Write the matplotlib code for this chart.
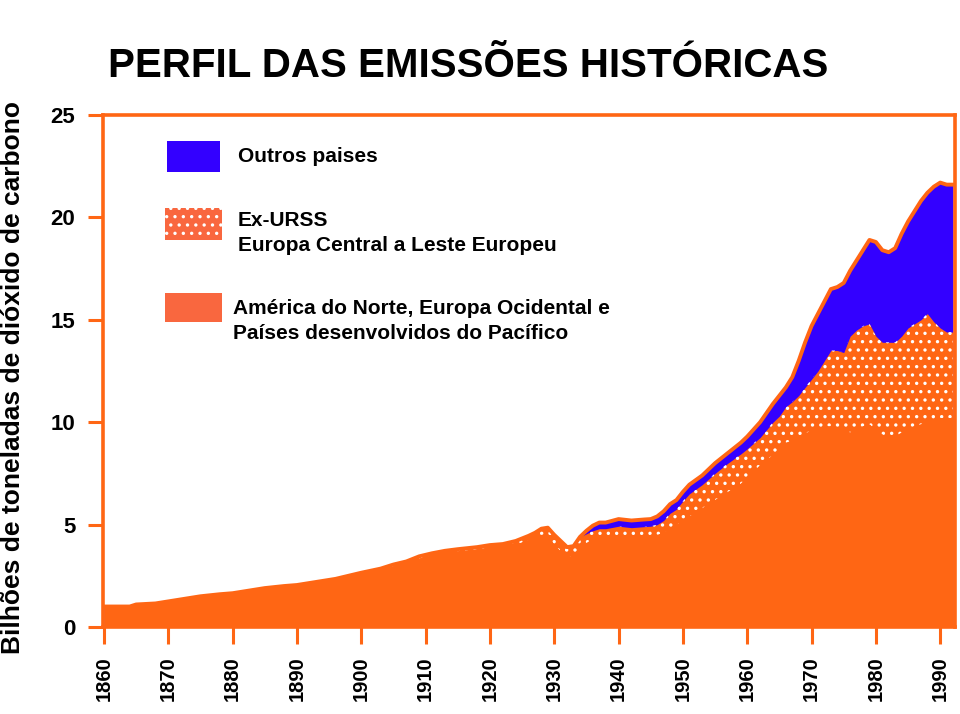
import numpy as np
import matplotlib
matplotlib.use("Agg")
from matplotlib import pyplot as plt
from matplotlib.patches import Rectangle

plt.rcParams["font.family"] = ["Liberation Sans", "DejaVu Sans"]
plt.rcParams["font.weight"] = "bold"
plt.rcParams["hatch.linewidth"] = 1.2

# values (billions of tonnes of CO2)
years = [1860, 1864, 1865, 1868, 1870, 1873, 1875, 1878, 1880, 1883, 1885, 1888,
         1890, 1893, 1896, 1898, 1900, 1903, 1905, 1907, 1909, 1911, 1913, 1915,
         1918, 1920, 1922, 1924, 1926, 1927, 1928, 1929, 1930, 1931, 1932, 1933,
         1934, 1935, 1936, 1937, 1938, 1940, 1942, 1944, 1945, 1946, 1947, 1948,
         1949, 1950, 1951, 1953, 1955, 1957, 1959, 1960, 1962, 1964, 1965, 1966,
         1967, 1968, 1969, 1970, 1971, 1972, 1973, 1974, 1975, 1976, 1977, 1978,
         1979, 1980, 1981, 1982, 1983, 1984, 1985, 1986, 1987, 1988, 1989, 1990,
         1991, 1992]

developed = [0.95, 0.95, 1.05, 1.1, 1.2, 1.35, 1.45, 1.55, 1.6, 1.75, 1.85, 1.95,
             2.0, 2.15, 2.3, 2.45, 2.6, 2.78, 2.97, 3.12, 3.35, 3.5, 3.6, 3.7,
             3.8, 3.88, 3.93, 4.02, 4.25, 4.35, 4.5, 4.5, 4.0, 3.7, 3.4, 3.5,
             3.9, 4.1, 4.3, 4.3, 4.3, 4.3, 4.3, 4.4, 4.5, 4.5, 4.6, 4.8,
             5.0, 5.2, 5.4, 5.8, 6.2, 6.6, 7.0, 7.3, 7.9, 8.4, 8.7, 9.0,
             9.1, 9.3, 9.45, 9.6, 9.7, 9.8, 9.8, 9.7, 9.6, 9.5, 9.65, 9.8,
             9.9, 9.6, 9.4, 9.3, 9.3, 9.5, 9.7, 9.8, 9.9, 10.0, 10.1, 10.2,
             10.2, 10.2]

ex_urss = [0.05, 0.05, 0.05, 0.05, 0.05, 0.05, 0.05, 0.05, 0.05, 0.05, 0.05, 0.05,
           0.05, 0.05, 0.05, 0.05, 0.05, 0.07, 0.08, 0.08, 0.1, 0.1, 0.12, 0.1,
           0.1, 0.12, 0.12, 0.18, 0.2, 0.25, 0.3, 0.35, 0.5, 0.5, 0.5, 0.45,
           0.5, 0.45, 0.4, 0.5, 0.5, 0.62, 0.55, 0.5, 0.42, 0.5, 0.6, 0.75,
           0.75, 0.95, 1.1, 1.15, 1.3, 1.4, 1.45, 1.4, 1.35, 1.6, 1.6, 1.75,
           1.9, 2.0, 2.25, 2.5, 2.8, 3.2, 3.7, 3.8, 3.8, 4.7, 4.85, 4.9,
           4.9, 4.6, 4.5, 4.6, 4.6, 4.7, 4.9, 5.0, 5.1, 5.3, 4.8, 4.4,
           4.2, 4.2]

outros = [0, 0, 0, 0, 0, 0, 0, 0, 0, 0, 0, 0,
          0, 0, 0, 0, 0, 0, 0, 0, 0, 0, 0, 0,
          0, 0, 0, 0, 0, 0, 0, 0, 0, 0, 0, 0,
          0, 0.15, 0.25, 0.3, 0.3, 0.35, 0.35, 0.35, 0.35, 0.4, 0.45, 0.45,
          0.45, 0.45, 0.45, 0.45, 0.5, 0.5, 0.55, 0.6, 0.75, 0.9, 1.0, 0.95,
          1.2, 1.7, 2.2, 2.6, 2.8, 2.9, 3.0, 3.1, 3.4, 3.2, 3.4, 3.7,
          4.1, 4.6, 4.5, 4.4, 4.6, 5.0, 5.2, 5.5, 5.8, 5.9, 6.6, 7.1,
          7.2, 7.2]

labels = ["Outros paises",
          "Ex-URSS\nEuropa Central a Leste Europeu",
          "América do Norte, Europa Ocidental e\nPaíses desenvolvidos do Pacífico"]

orange = "#FF6614"
legend_orange = "#F9673F"
blue = "#3300FF"

W, H = 960, 714


def fx(x):
    return x / W


def fy(y):
    return 1 - y / H


dev = np.array(developed)
urss_top = dev + np.array(ex_urss)
total = urss_top + np.array(outros)

fig = plt.figure(figsize=(9.6, 7.14), dpi=100)
ax = fig.add_axes([fx(103), fy(627), fx(955) - fx(103), fy(115) - fy(627)])

# overlapping fills from zero, so no seams between the layers
ax.fill_between(years, 0, total, color=blue, lw=0, label=labels[0])
ax.fill_between(years, 0, urss_top, color=orange, lw=0)
ax.fill_between(years, dev, urss_top, facecolor="none", edgecolor="white",
                hatch="..", lw=0, label=labels[1])
ax.fill_between(years, 0, dev, color=orange, lw=0, label=labels[2])
ax.plot(years, total, color=orange, lw=2.8, solid_joinstyle="round")

ax.set_xlim(1859.85, 1992.3)
ax.set_ylim(0, 25)
ax.set_xticks(range(1860, 1991, 10))
ax.set_yticks(range(0, 26, 5))
ax.tick_params(axis="x", length=12, width=2.2, color=orange, pad=9,
               labelsize=14.5, labelrotation=90)
ax.tick_params(axis="y", length=11, width=2.2, color=orange, pad=9,
               labelsize=16)
for lab in ax.get_xticklabels() + ax.get_yticklabels():
    lab.set_fontweight("bold")
for side in ["left", "top", "right", "bottom"]:
    ax.spines[side].set_color(orange)
    ax.spines[side].set_linewidth(2.6)

# legend drawn by hand, like the original slide
fig.add_artist(Rectangle((fx(167), fy(172)), fx(220) - fx(167), fy(141) - fy(172),
                         transform=fig.transFigure, facecolor=blue, lw=0))
fig.add_artist(Rectangle((fx(165), fy(240)), fx(222) - fx(165), fy(208) - fy(240),
                         transform=fig.transFigure, facecolor=legend_orange,
                         edgecolor="white", hatch="..", lw=0))
fig.add_artist(Rectangle((fx(165), fy(322)), fx(222) - fx(165), fy(293) - fy(322),
                         transform=fig.transFigure, facecolor=legend_orange, lw=0))
fig.text(fx(238), fy(157), labels[0], fontsize=15, va="center")
fig.text(fx(238), fy(233), labels[1], fontsize=15, va="center", linespacing=1.45)
fig.text(fx(233), fy(321), labels[2], fontsize=15, va="center", linespacing=1.45)

fig.text(fx(108), fy(77), "PERFIL DAS EMISSÕES HISTÓRICAS", fontsize=29,
         fontweight="bold", va="baseline", ha="left")
fig.text(fx(13), fy(378), "Bilhões de toneladas de dióxido de carbono",
         fontsize=19, fontweight="bold", rotation=90, va="center", ha="center")

fig.savefig("out.png", dpi=100)
